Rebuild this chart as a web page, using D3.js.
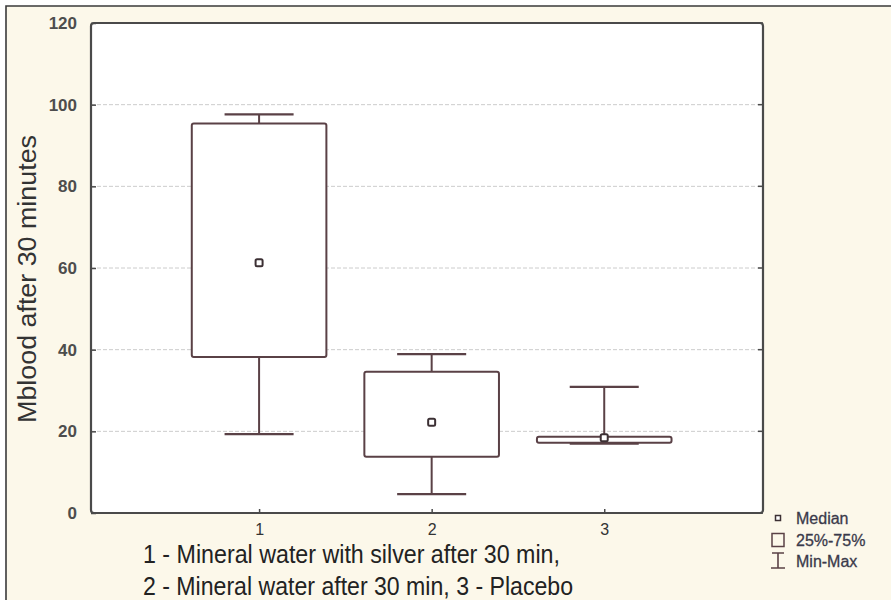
<!DOCTYPE html>
<html>
<head>
<meta charset="utf-8">
<script src="https://cdn.jsdelivr.net/npm/d3@7"></script>
<style>
  html, body { margin: 0; padding: 0; background: #ffffff; }
  svg { display: block; }
  text { font-family: "Liberation Sans", Arial, sans-serif; }
</style>
</head>
<body>
<div id="chart"></div>
<script>
// Groups and their summary statistics (Mblood after 30 minutes)
const groups   = [1, 2, 3];
const minVals  = [19.3, 4.6, 17.0];
const q1Vals   = [38.2, 13.8, 17.2];
const medians  = [61.3, 22.2, 18.4];
const q3Vals   = [95.4, 34.6, 18.7];
const maxVals  = [97.6, 38.9, 30.9];
const yTicks   = [0, 20, 40, 60, 80, 100, 120];
const yTitle   = "Mblood after 30 minutes";
const xTitle   = ["1 - Mineral water with silver after 30 min,",
                  "2 - Mineral water after 30 min, 3 - Placebo"];
const legendItems = ["Median", "25%-75%", "Min-Max"];

const W = 891, H = 600;
const plot = { left: 91, right: 763, top: 23, bottom: 513 };
const boxColor = "#5a4146";
const axisColor = "#4a4a4a";

const svg = d3.select("#chart").append("svg")
  .attr("width", W).attr("height", H);

// Page background with partial frame
svg.append("rect").attr("x", 0).attr("y", 0).attr("width", W).attr("height", H)
  .attr("fill", "#ffffff");
svg.append("rect").attr("x", 6).attr("y", 6).attr("width", W - 6).attr("height", H - 6)
  .attr("fill", "#fcf8ea");
svg.append("path").attr("d", `M6,${H} L6,6 L${W},6`)
  .attr("fill", "none").attr("stroke", "#3a3a3a").attr("stroke-width", 1.6);

const x = d3.scaleLinear().domain([0.026, 3.92]).range([plot.left, plot.right]);
const y = d3.scaleLinear().domain([0, 120]).range([plot.bottom, plot.top]);

// Plot area
svg.append("rect")
  .attr("x", plot.left).attr("y", plot.top)
  .attr("width", plot.right - plot.left).attr("height", plot.bottom - plot.top)
  .attr("fill", "#ffffff");

// Horizontal grid lines
svg.append("g").selectAll("line")
  .data(yTicks.filter(t => t > 0 && t < 120))
  .join("line")
  .attr("x1", plot.left).attr("x2", plot.right)
  .attr("y1", d => y(d)).attr("y2", d => y(d))
  .attr("stroke", "#cccccc").attr("stroke-width", 1)
  .attr("stroke-dasharray", "4,2");

// Left axis with inward ticks
const yAxis = svg.append("g")
  .attr("transform", `translate(${plot.left},0)`)
  .call(d3.axisLeft(y).tickValues(yTicks).tickSize(-5).tickPadding(14));
yAxis.select(".domain").remove();
yAxis.selectAll(".tick line").attr("stroke", axisColor).attr("stroke-width", 1.5);
yAxis.selectAll(".tick text")
  .attr("fill", "#4d4d4d").style("font-size", "17px").style("font-weight", "bold");

// Right side inward ticks
svg.append("g").selectAll("line")
  .data(yTicks)
  .join("line")
  .attr("x1", plot.right - 5).attr("x2", plot.right)
  .attr("y1", d => y(d)).attr("y2", d => y(d))
  .attr("stroke", axisColor).attr("stroke-width", 1.5);

// Bottom axis
const xAxis = svg.append("g")
  .attr("transform", `translate(0,${plot.bottom})`)
  .call(d3.axisBottom(x).tickValues(groups).tickFormat(d3.format("d")).tickSize(-4).tickPadding(11));
xAxis.select(".domain").remove();
xAxis.selectAll(".tick line").attr("stroke", axisColor).attr("stroke-width", 1.5);
xAxis.selectAll(".tick text")
  .attr("fill", "#333").style("font-size", "16px");

// Plot frame
svg.append("rect")
  .attr("x", plot.left).attr("y", plot.top)
  .attr("width", plot.right - plot.left).attr("height", plot.bottom - plot.top)
  .attr("rx", 3)
  .attr("fill", "none").attr("stroke", axisColor).attr("stroke-width", 2.2);

// Box plots
const boxHalf = 0.39;   // half box width in group units
const capHalf = 0.2;    // half whisker cap width
const data = groups.map((g, i) => ({
  g, min: minVals[i], q1: q1Vals[i], med: medians[i], q3: q3Vals[i], max: maxVals[i]
}));

const boxes = svg.append("g").selectAll("g").data(data).join("g");

// whiskers
boxes.append("line")
  .attr("x1", d => x(d.g)).attr("x2", d => x(d.g))
  .attr("y1", d => y(d.q3)).attr("y2", d => y(d.max))
  .attr("stroke", boxColor).attr("stroke-width", 2);
boxes.append("line")
  .attr("x1", d => x(d.g)).attr("x2", d => x(d.g))
  .attr("y1", d => y(d.q1)).attr("y2", d => y(d.min))
  .attr("stroke", boxColor).attr("stroke-width", 2);
// caps
boxes.append("line")
  .attr("x1", d => x(d.g - capHalf)).attr("x2", d => x(d.g + capHalf))
  .attr("y1", d => y(d.max)).attr("y2", d => y(d.max))
  .attr("stroke", boxColor).attr("stroke-width", 2.2);
boxes.append("line")
  .attr("x1", d => x(d.g - capHalf)).attr("x2", d => x(d.g + capHalf))
  .attr("y1", d => y(d.min)).attr("y2", d => y(d.min))
  .attr("stroke", boxColor).attr("stroke-width", 2.2);
// boxes
boxes.append("rect")
  .attr("x", d => x(d.g - boxHalf))
  .attr("width", d => x(d.g + boxHalf) - x(d.g - boxHalf))
  .attr("y", d => y(d.q3))
  .attr("height", d => y(d.q1) - y(d.q3))
  .attr("rx", 2)
  .attr("fill", "#ffffff").attr("stroke", boxColor).attr("stroke-width", 2);
// median markers
boxes.append("rect")
  .attr("x", d => x(d.g) - 3.5).attr("y", d => y(d.med) - 3.5)
  .attr("width", 7).attr("height", 7).attr("rx", 1.5)
  .attr("fill", "#ffffff").attr("stroke", "#3c3034").attr("stroke-width", 2);

// Y axis title
svg.append("text")
  .attr("transform", `translate(36,279) rotate(-90)`)
  .attr("text-anchor", "middle")
  .attr("fill", "#333")
  .style("font-size", "26px")
  .attr("textLength", 288).attr("lengthAdjust", "spacingAndGlyphs")
  .text(yTitle);

// X axis title (two lines)
const xt = svg.append("g");
xt.append("text").attr("x", 143).attr("y", 563)
  .attr("fill", "#222").style("font-size", "26px")
  .attr("textLength", 417).attr("lengthAdjust", "spacingAndGlyphs")
  .text(xTitle[0]);
xt.append("text").attr("x", 143).attr("y", 595)
  .attr("fill", "#222").style("font-size", "26px")
  .attr("textLength", 430).attr("lengthAdjust", "spacingAndGlyphs")
  .text(xTitle[1]);

// Legend
const lg = svg.append("g");
const lgX = 778, lgY = [518, 540, 561];
lg.append("rect").attr("x", lgX - 2.5).attr("y", lgY[0] - 2.5).attr("width", 5).attr("height", 5)
  .attr("fill", "#fff").attr("stroke", "#3c3034").attr("stroke-width", 1.5);
lg.append("rect").attr("x", lgX - 6).attr("y", lgY[1] - 6.5).attr("width", 12).attr("height", 13)
  .attr("fill", "none").attr("stroke", boxColor).attr("stroke-width", 1.5);
lg.append("path")
  .attr("d", `M${lgX - 6},${lgY[2] - 8} H${lgX + 6} M${lgX},${lgY[2] - 8} V${lgY[2] + 7} M${lgX - 7},${lgY[2] + 7} H${lgX + 7}`)
  .attr("fill", "none").attr("stroke", boxColor).attr("stroke-width", 1.6);
lg.selectAll("text").data(legendItems).join("text")
  .attr("x", 796).attr("y", (d, i) => lgY[i] + 5.5)
  .attr("fill", "#3a3a4a").style("font-size", "16px")
  .attr("stroke", "#3a3a4a").attr("stroke-width", 0.3)
  .text(d => d);
</script>
</body>
</html>
